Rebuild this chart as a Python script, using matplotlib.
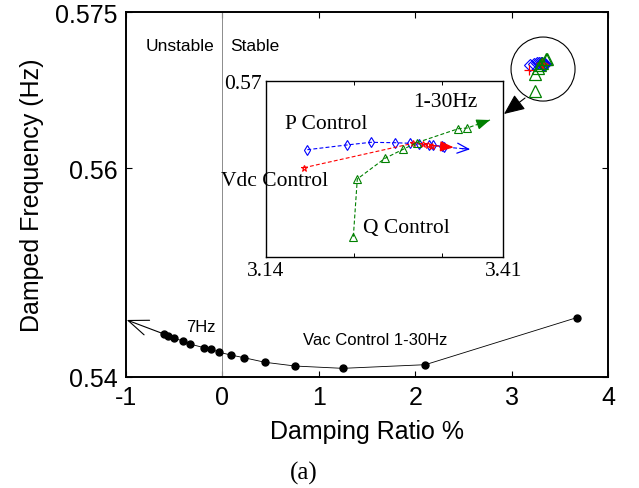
import matplotlib
matplotlib.use("Agg")
import matplotlib.pyplot as plt
from matplotlib.patches import Ellipse
from matplotlib.transforms import offset_copy

# Vac control trajectory (main axes), from 30Hz down to 7Hz
vac_x = [3.675, 2.105, 1.248, 0.756, 0.442, 0.224, 0.086, -0.032, -0.121,
         -0.191, -0.336, -0.405, -0.502, -0.561, -0.606]
vac_y = [0.54569, 0.54118, 0.54083, 0.54105, 0.54141, 0.54185, 0.54211,
         0.54237, 0.54268, 0.54281, 0.54316, 0.54345, 0.54371, 0.54396, 0.54412]
vac_tip = (-0.993, 0.54547)

# zoomed-in traces (inset), 1-30Hz
p_x = [3.1873, 3.2320, 3.2593, 3.2869, 3.3040, 3.3146, 3.3259, 3.3298, 3.3400, 3.3426]
p_y = [0.568048, 0.568182, 0.568258, 0.568247, 0.568230, 0.568210, 0.568190,
       0.568173, 0.568153, 0.568125]
p_tip = (3.3722, 0.568060)

vdc_x = [3.1835, 3.3074, 3.3191, 3.3248, 3.3286]
vdc_y = [0.567537, 0.568230, 0.568210, 0.568182, 0.568162]
vdc_tip = (3.3536, 0.568116)

q_x = [3.2396, 3.2441, 3.2756, 3.2964, 3.3116, 3.3589, 3.3691]
q_y = [0.565577, 0.567216, 0.567804, 0.568062, 0.568247, 0.568645, 0.568665]
q_tip = (3.3949, 0.568892)

blue = (0, 0, 1)
red = (1, 0, 0)
green = (0, 0.5, 0)
sans = "Liberation Sans"
serif = "Liberation Serif"

fig = plt.figure(figsize=(6.39, 4.89), dpi=100)
ax = fig.add_axes([0.1972, 0.227, 0.7543, 0.7464])

ax.set_xlim(-1, 4)
ax.set_ylim(0.54, 0.575)
ax.set_xticks([-1, 0, 1, 2, 3, 4])
ax.set_xticklabels(['-1', '0', '1', '2', '3', '4'])
ax.set_yticks([0.54, 0.56, 0.575])
ax.set_yticklabels(['0.54', '0.56', '0.575'])
ax.tick_params(direction='in', length=4, width=0.8, top=True, right=True,
               labelsize=18, pad=6)
for lab in ax.get_xticklabels() + ax.get_yticklabels():
    lab.set_family(sans)
for s in ax.spines.values():
    s.set_linewidth(1.4)

ax.set_xlabel('Damping Ratio %', fontsize=18, family=sans)
ax.set_ylabel('Damped Frequency (Hz)', fontsize=18, family=sans)
ax.xaxis.set_label_coords(0.5, -0.115)
ax.yaxis.set_label_coords(-0.17, 0.5)

ax.axvline(0, color='0.55', lw=0.7)
ax.text(-0.44, 0.57183, 'Unstable', fontsize=12.5, family=sans, ha='center', va='center')
ax.text(0.08, 0.57183, 'Stable', fontsize=12.5, family=sans, ha='left', va='center')

ax.plot(vac_x, vac_y, color='k', lw=0.6, marker='o', ms=5, mfc='k', mec='k')
ax.annotate('', xy=vac_tip, xytext=(vac_x[-1], vac_y[-1]),
            arrowprops=dict(arrowstyle='->,head_length=0.9,head_width=0.35',
                            color='k', lw=0.8, mutation_scale=16,
                            shrinkA=0, shrinkB=0))
ax.text(-0.378, 0.54489, '7Hz', fontsize=12, family=sans, ha='left', va='center')
ax.text(0.836, 0.54364, 'Vac Control 1-30Hz', fontsize=12, family=sans,
        ha='left', va='center')

# circled cluster (schematic of the zoomed region)
ax.add_patch(Ellipse((3.326, 0.56953), 0.664, 0.00614, fill=False,
                     edgecolor='k', lw=0.8))
shift = offset_copy(ax.transData, fig=fig, x=0, y=14, units='points')
ax.plot(p_x, p_y, ls='none', marker='D', ms=6.5, mfc='none', mec=blue,
        mew=0.8, transform=shift)
ax.plot(vdc_x, vdc_y, ls='none', marker='+', ms=7, mec=red, mew=0.9,
        transform=shift)
ax.plot(q_x, q_y, ls='none', marker='^', ms=9, mfc='none', mec=green,
        mew=0.9, transform=shift)

ax.annotate('', xy=(2.921, 0.56522), xytext=(3.139, 0.56675),
            arrowprops=dict(arrowstyle='-|>,head_length=0.8,head_width=0.35',
                            color='k', lw=0.8, mutation_scale=16,
                            shrinkA=0, shrinkB=0))

# inset
ax_in = fig.add_axes([0.4158, 0.4724, 0.3718, 0.3599])
ax_in.set_xlim(3.14, 3.41)
ax_in.set_ylim(0.565, 0.57)
ax_in.set_xticks([3.14, 3.24, 3.34, 3.41])
ax_in.set_xticklabels(['3.14', '', '', '3.41'])
ax_in.set_yticks([0.57])
ax_in.set_yticklabels(['0.57'])
ax_in.tick_params(direction='in', length=3, width=0.7, top=True, right=True,
                  labelsize=15.5, pad=3)
for lab in ax_in.get_xticklabels() + ax_in.get_yticklabels():
    lab.set_family(serif)
for s in ax_in.spines.values():
    s.set_linewidth(1.0)


def trace(xs, ys, tip, color, marker, ms, head):
    ax_in.plot(list(xs) + [tip[0]], list(ys) + [tip[1]], color=color, ls='--',
               lw=0.8, dashes=(3.5, 2))
    ax_in.plot(xs, ys, ls='none', marker=marker, ms=ms, mfc='none', mec=color,
               mew=0.8)
    back = (tip[0] - 0.3 * (tip[0] - xs[-1]), tip[1] - 0.3 * (tip[1] - ys[-1]))
    ax_in.annotate('', xy=tip, xytext=back,
                   arrowprops=dict(arrowstyle=head, color=color, lw=0.9,
                                   mutation_scale=9, shrinkA=0, shrinkB=0))


trace(p_x, p_y, p_tip, blue, 'd', 5, '->,head_length=0.9,head_width=0.4')
trace(vdc_x, vdc_y, vdc_tip, red, '*', 5, '-|>,head_length=0.9,head_width=0.35')
trace(q_x, q_y, q_tip, green, '^', 5.5, '-|>,head_length=0.9,head_width=0.35')

ax_in.text(0.081, 0.756, 'P Control', transform=ax_in.transAxes, fontsize=15.5,
           family=serif, ha='left', va='center')
ax_in.text(0.62, 0.886, '1-30Hz', transform=ax_in.transAxes, fontsize=15.5,
           family=serif, ha='left', va='center')
ax_in.text(-0.188, 0.432, 'Vdc Control', transform=ax_in.transAxes, fontsize=15.5,
           family=serif, ha='left', va='center', clip_on=False)
ax_in.text(0.41, 0.17, 'Q Control', transform=ax_in.transAxes, fontsize=15.5,
           family=serif, ha='left', va='center')

fig.text(304 / 639, 1 - 473 / 489, '(a)', fontsize=18, family=serif,
         ha='center', va='center')

fig.savefig('out.png', dpi=100)
